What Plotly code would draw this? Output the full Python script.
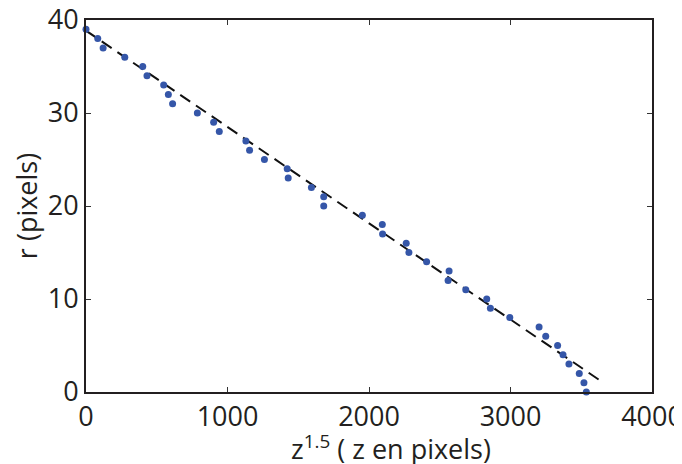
import plotly.graph_objects as go

# Data
z15 = [0, 83, 121, 274, 401, 431, 549, 582, 612, 787, 902, 942, 1130, 1156,
       1261, 1422, 1429, 1593, 1680, 1680, 1953, 2094, 2096, 2263, 2282, 2407,
       2566, 2559, 2684, 2832, 2858, 2995, 3202, 3249, 3333, 3371, 3413, 3486,
       3519, 3536]
r_px = [39, 38, 37, 36, 35, 34, 33, 32, 31, 30, 29, 28, 27, 26, 25, 24, 23, 22,
        21, 20, 19, 18, 17, 16, 15, 14, 13, 12, 11, 10, 9, 8, 7, 6, 5, 4, 3, 2,
        1, 0]
fit_z = [0, 3630]
fit_r = [38.85, 1.27]

x_ticks = [0, 1000, 2000, 3000, 4000]
y_ticks = [0, 10, 20, 30, 40]

font_family = "Open Sans, Noto Sans, sans-serif"
text_color = "#231f20"
fsize = 27

fig = go.Figure()
fig.add_trace(go.Scatter(
    x=fit_z, y=fit_r, mode="lines",
    line=dict(color="#111111", width=2, dash="12px,7px"),
    showlegend=False, hoverinfo="skip"))
fig.add_trace(go.Scatter(
    x=z15, y=r_px, mode="markers", cliponaxis=False,
    marker=dict(color="#3556a8", size=7, line=dict(width=0)),
    showlegend=False))

axis_common = dict(
    showgrid=False, zeroline=False,
    showline=True, linecolor="#231f20", linewidth=2, mirror="allticks",
    ticks="inside", ticklen=5, tickwidth=1, tickcolor="#333333",
    tickfont=dict(family=font_family, size=fsize, color=text_color),
    ticklabeloverflow="allow",
)

fig.update_xaxes(range=[0, 4000], tickvals=x_ticks,
                 ticktext=[str(v) for v in x_ticks],
                 **axis_common)
fig.update_yaxes(range=[0, 40], tickvals=y_ticks,
                 ticktext=[str(v) for v in y_ticks],
                 title=dict(text="r (pixels)",
                            font=dict(family=font_family, size=fsize, color=text_color),
                            standoff=4),
                 **axis_common)

fig.add_annotation(
    text="z<sup>1.5</sup> ( z en pixels)",
    xref="paper", yref="paper", x=0.539, y=-0.148,
    xanchor="center", yanchor="middle", showarrow=False,
    font=dict(family=font_family, size=fsize, color=text_color))

# page body has an 8px margin, so the figure is sized to fit the window
fig.update_layout(
    width=674, height=456,
    margin=dict(l=77.5, r=29.5, t=12, b=71.5, autoexpand=False),
    paper_bgcolor="white", plot_bgcolor="white",
    font=dict(family=font_family, color=text_color),
)

fig.write_html("out.html")
